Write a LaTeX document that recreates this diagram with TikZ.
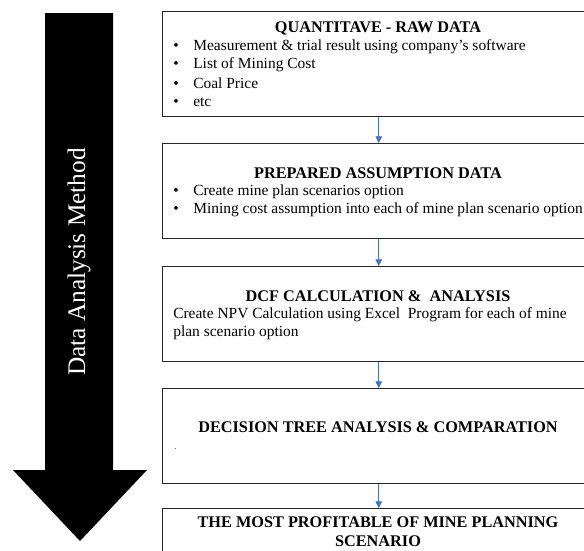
\documentclass[tikz,border=0pt]{standalone}
\usepackage{fontspec}
\setmainfont{Liberation Serif}
\usetikzlibrary{arrows.meta, positioning}
\definecolor{linkblue}{RGB}{68,114,196}
\newcommand{\itembullet}{\makebox[15pt][l]{•}}
\tikzset{
  stagebox/.style={draw=black!85, line width=1.1pt, minimum width=324pt, inner sep=0pt, anchor=north west},
  boxtitle/.style={inner sep=0pt, font=\bfseries\fontsize{12.2}{14.5}\selectfont, align=center},
  boxtext/.style={anchor=west, inner sep=0pt, font=\fontsize{11.6}{13.5}\selectfont},
  link/.style={linkblue, line width=0.6pt, -{Triangle[length=5pt,width=5pt]}},
}

\begin{document}
\begin{tikzpicture}[x=0.75pt, y=-0.75pt]
          \useasboundingbox (0,0) rectangle (584,550);
          \clip (0,0) rectangle (584,550);

          % big arrow on the left
          \fill [black] (45,13) -- (113,13) -- (113,470) -- (147,470) -- (80,541) -- (13,470) -- (45,470) -- cycle;
          \node [rotate=90, white, inner sep=0pt, font=\fontsize{19}{21}\selectfont] (method) at (79,262) {Data Analysis Method};

          % stages
          \node [stagebox, minimum height=78.75pt] (raw) at (162,11) {};
          \node [stagebox, minimum height=71.25pt] (assume) at (162,143) {};
          \node [stagebox, minimum height=71.25pt] (dcf) at (162,266) {};
          \node [stagebox, minimum height=71.25pt] (tree) at (162,388) {};
          \node [stagebox, minimum height=45pt] (best) at (162,508) {};

          \node [boxtitle] (rawtitle) at (378,28) {QUANTITAVE - RAW DATA};
          \node [boxtext] (raw1) at (173,47) {\itembullet Measurement \& trial result using company’s software};
          \node [boxtext] (raw2) at (173,65) {\itembullet List of Mining Cost};
          \node [boxtext] (raw3) at (173,83) {\itembullet Coal Price};
          \node [boxtext] (raw4) at (173,102) {\itembullet etc};

          \node [boxtitle] (assumetitle) at (378,173) {PREPARED ASSUMPTION DATA};
          \node [boxtext] (assume1) at (173,192) {\itembullet Create mine plan scenarios option};
          \node [boxtext] (assume2) at (173,210) {\itembullet Mining cost assumption into each of mine plan scenario option};

          \node [boxtitle] (dcftitle) at (378,296) {DCF CALCULATION \&\ \ ANALYSIS};
          \node [boxtext] (dcf1) at (173,315) {Create NPV Calculation using Excel\ \ Program for each of mine};
          \node [boxtext] (dcf2) at (173,333) {plan scenario option};

          \node [boxtitle] (treetitle) at (378,427) {DECISION TREE ANALYSIS \& COMPARATION};
          \node [boxtext, font=\fontsize{6}{7}\selectfont] (treedot) at (174,449) {.};

          \node [boxtitle] (besttitle) at (378,532) {THE MOST PROFITABLE OF MINE PLANNING\\SCENARIO};

          \draw [link] (raw.south) -- (assume.north);
          \draw [link] (assume.south) -- (dcf.north);
          \draw [link] (dcf.south) -- (tree.north);
          \draw [link] (tree.south) -- (best.north);
        \end{tikzpicture}
\end{document}
